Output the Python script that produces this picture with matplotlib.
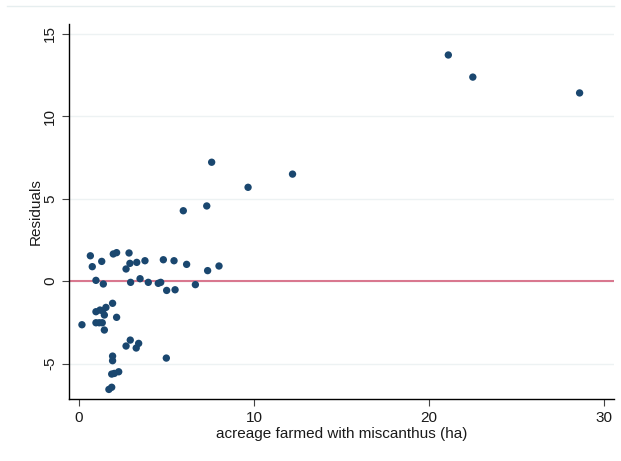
import matplotlib
matplotlib.use("Agg")
import matplotlib.pyplot as plt
from matplotlib.lines import Line2D

#################
# Data
#################
acreage = [21.1, 22.5, 28.6,
           7.58, 12.2, 9.66, 5.96, 7.3,
           0.65, 0.76, 1.3, 1.96, 2.15, 2.86, 0.97, 1.39, 2.69, 2.91, 3.3,
           3.77, 2.95, 3.49, 3.96, 4.53, 4.67, 4.82, 5.43, 6.15, 5.01, 5.49,
           6.65, 7.35, 8.0,
           0.17, 0.97, 1.2, 1.35, 1.54, 1.92, 1.45, 0.97, 1.16, 1.33, 1.45,
           2.15, 2.69, 2.93, 3.27, 3.41, 1.92, 1.92, 4.99, 1.87, 2.02, 2.27,
           1.71, 1.87]
residuals = [13.7, 12.36, 11.4,
             7.2, 6.48, 5.68, 4.26, 4.55,
             1.53, 0.87, 1.19, 1.64, 1.72, 1.70, 0.04, -0.18, 0.73, 1.07, 1.13,
             1.23, -0.08, 0.14, -0.08, -0.14, -0.08, 1.29, 1.23, 1.01, -0.57, -0.53,
             -0.22, 0.63, 0.91,
             -2.65, -1.86, -1.76, -1.8, -1.6, -1.35, -2.06, -2.53, -2.53, -2.53, -2.97,
             -2.2, -3.94, -3.58, -4.06, -3.78, -4.55, -4.83, -4.67, -5.64, -5.6, -5.5,
             -6.57, -6.44]
xticks = [0, 10, 20, 30]
yticks = [-5, 0, 5, 10, 15]

#################
# Plot
#################
plt.rcParams['font.family'] = ['Liberation Sans', 'DejaVu Sans']

fig = plt.figure(figsize=(6.21, 4.61), dpi=100)
ax = fig.add_axes([0.1111, 0.1338, 0.9883 - 0.1111, 0.948 - 0.1338])

ax.set_xlim(-0.57, 30.55)
ax.set_ylim(-7.17, 15.58)

# light grid at y ticks
for yt in yticks:
    ax.axhline(yt, color='#edf2f3', lw=1.0, zorder=0)
ax.axhline(0, color='#d9788f', lw=1.5, zorder=1)

ax.scatter(acreage, residuals, s=28, color='#1a476f', edgecolors='none', zorder=3)

ax.set_xticks(xticks)
ax.set_yticks(yticks)
ax.set_yticklabels([str(v) for v in yticks], rotation=90, va='center')
ax.tick_params(axis='both', labelsize=11, length=5, width=0.8, color='#444444',
               labelcolor='#1a1a1a')

for side in ['top', 'right']:
    ax.spines[side].set_visible(False)
for side in ['left', 'bottom']:
    ax.spines[side].set_linewidth(1.0)
    ax.spines[side].set_color('black')

ax.set_xlabel('acreage farmed with miscanthus (ha)', fontsize=11, labelpad=1, color='#1a1a1a')
ax.set_ylabel('Residuals', fontsize=11, labelpad=0, color='#1a1a1a')

# faint outer frame line at top
fig.add_artist(Line2D([0.011, 0.989], [0.987, 0.987], transform=fig.transFigure,
                      color='#e6eeef', lw=1.0))

fig.savefig('out.png', dpi=100)
